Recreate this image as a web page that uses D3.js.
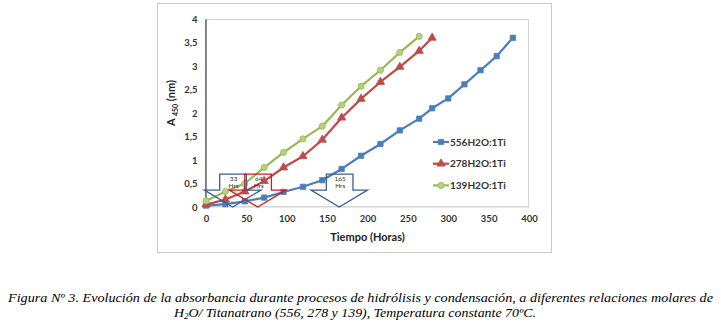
<!DOCTYPE html>
<html><head><meta charset="utf-8">
<script src="https://cdn.jsdelivr.net/npm/d3@7"></script>
<style>body{margin:0;background:#fff}svg{display:block}</style>
</head><body>
<svg id="c" width="721" height="325"></svg>
<script>
const seriesNames = ["556H2O:1Ti", "278H2O:1Ti", "139H2O:1Ti"];
const seriesColors = ["#4a7ebb", "#be4b48", "#98b954"];
const hours556 = [0,24,48,72,96,120,144,168,192,216,240,264,280,300,320,340,360,380];
const abs556   = [0.03,0.06,0.12,0.2,0.32,0.43,0.57,0.81,1.09,1.34,1.63,1.88,2.1,2.31,2.61,2.91,3.21,3.6];
const hours278 = [0,24,48,72,96,120,144,168,192,216,240,264,280];
const abs278   = [0.05,0.16,0.33,0.55,0.84,1.08,1.43,1.9,2.3,2.66,2.98,3.32,3.6];
const hours139 = [0,24,48,72,96,120,144,168,192,216,240,264];
const abs139   = [0.13,0.33,0.5,0.84,1.16,1.45,1.72,2.17,2.57,2.91,3.29,3.63];
const xTicks = [0,50,100,150,200,250,300,350,400];
const yTicks = [0,0.5,1,1.5,2,2.5,3,3.5,4];
const calloutHours = [33, 64, 165];
const calloutLabels = ["33", "64", "165"];
const calloutColors = ["#3b5e91", "#d01c1c", "#3b5e91"];

const svg = d3.select("#c");
const x = d3.scaleLinear().domain([0,400]).range([206,529]);
const y = d3.scaleLinear().domain([0,4]).range([207,19]);
const fmt = d => String(d).replace(".", ",");

// outer chart border
svg.append("rect").attr("x",157.5).attr("y",3.5).attr("width",394).attr("height",249)
  .attr("fill","#fff").attr("stroke","#c8c8c8").attr("stroke-width",1);
// plot area border
svg.append("rect").attr("x",205.5).attr("y",19.5).attr("width",323).attr("height",187)
  .attr("fill","none").attr("stroke","#d4d4d4").attr("stroke-width",1);

// axes
const yAxis = d3.axisLeft(y).tickValues(yTicks).tickFormat(fmt).tickSize(0).tickPadding(8);
const gy = svg.append("g").attr("transform","translate(205.5,0)").call(yAxis);
gy.select(".domain").attr("stroke","#404040").attr("stroke-width",1.2);
gy.selectAll("text").attr("font-family","Lato").attr("font-weight","bold").attr("font-size","9.5px").attr("fill","#333");

const xAxis = d3.axisBottom(x).tickValues(xTicks).tickSize(0).tickPadding(9);
const gx = svg.append("g").attr("transform","translate(0,206.5)").call(xAxis);
gx.select(".domain").attr("stroke","#d4d4d4");
gx.selectAll("text").attr("font-family","Lato").attr("font-weight","bold").attr("font-size","9.5px").attr("fill","#333");

// axis titles
svg.append("text").attr("x",(x(0)+x(400))/2).attr("y",241).attr("text-anchor","middle")
  .attr("font-family","Lato").attr("font-weight","bold").attr("font-size","11px").attr("fill","#222")
  .text("Tiempo (Horas)");
const yt = svg.append("text").attr("transform","translate(175,103) rotate(-90)").attr("text-anchor","middle")
  .attr("font-family","Lato").attr("font-weight","bold").attr("font-size","11px").attr("fill","#222");
yt.append("tspan").text("A ");
yt.append("tspan").attr("font-size","7px").attr("dy",3).text("450");
yt.append("tspan").attr("dy",-3).text(" (nm)");

// series
const series = [
  {name:seriesNames[0], color:seriesColors[0], xs:hours556, ys:abs556, marker:"square"},
  {name:seriesNames[1], color:seriesColors[1], xs:hours278, ys:abs278, marker:"triangle"},
  {name:seriesNames[2], color:seriesColors[2], xs:hours139, ys:abs139, marker:"circle"}
];
const line = d3.line().x(d=>x(d[0])).y(d=>y(d[1]));
const symMap = {square:d3.symbolSquare, triangle:d3.symbolTriangle, circle:d3.symbolCircle};
const symSize = {square:28, triangle:30, circle:30};

function drawMarker(g, s, cx, cy){
  g.append("path").attr("d", d3.symbol().type(symMap[s.marker]).size(symSize[s.marker])())
    .attr("transform",`translate(${cx},${cy})`)
    .attr("fill", s.marker==="circle" ? "#b5d27a" : s.color)
    .attr("stroke", s.color).attr("stroke-width",0.8);
}

series.forEach(s=>{
  const pts = s.xs.map((h,i)=>[h,s.ys[i]]);
  svg.append("path").datum(pts).attr("d",line).attr("fill","none")
    .attr("stroke",s.color).attr("stroke-width",2.2).attr("stroke-linejoin","round");
  const g = svg.append("g");
  pts.forEach(p=>drawMarker(g,s,x(p[0]),y(p[1])));
});

// callouts (down arrow callouts)
calloutHours.forEach((h,i)=>{
  const c = calloutColors[i];
  const bx0 = x(h-16), bx1 = x(h+17), wx0 = x(h-35), wx1 = x(h+35);
  const yTop = y(0.7), ySh = y(0.36), yTip = y(0);
  const pts = [[bx0,yTop],[bx1,yTop],[bx1,ySh],[wx1,ySh],[x(h),yTip],[wx0,ySh],[bx0,ySh]];
  svg.append("path").attr("d", d3.line()(pts)+"Z").attr("fill","none")
    .attr("stroke",c).attr("stroke-width",1.3);
  const t = svg.append("text").attr("text-anchor","middle").attr("font-family","Lato")
    .attr("font-size","6.5px").attr("fill","#333");
  t.append("tspan").attr("x",x(h)+1).attr("y",yTop+7).text(calloutLabels[i]);
  t.append("tspan").attr("x",x(h)+1).attr("y",yTop+14).text("Hrs");
});

// legend
series.forEach((s,i)=>{
  const ly = 142 + i*21.7;
  svg.append("line").attr("x1",433).attr("x2",449).attr("y1",ly).attr("y2",ly)
    .attr("stroke",s.color).attr("stroke-width",2.2);
  drawMarker(svg,s,441,ly);
  svg.append("text").attr("x",450).attr("y",ly+3.5).attr("font-family","Lato").attr("font-weight","bold")
    .attr("font-size","10px").attr("fill","#333").text(s.name);
});

// caption
const cap1 = svg.append("text").attr("x",360.5).attr("y",302).attr("text-anchor","middle")
  .attr("font-family","Liberation Serif").attr("font-style","italic").attr("font-size","12.5px").attr("fill","#000")
  .attr("textLength",705).attr("lengthAdjust","spacingAndGlyphs")
  .text("Figura Nº 3. Evolución de la absorbancia durante procesos de hidrólisis y condensación, a diferentes relaciones molares de");
const cap2 = svg.append("text").attr("x",355).attr("y",316.5).attr("text-anchor","middle")
  .attr("font-family","Liberation Serif").attr("font-style","italic").attr("font-size","12.5px").attr("fill","#000")
  .attr("textLength",362).attr("lengthAdjust","spacingAndGlyphs");
cap2.append("tspan").text("H");
cap2.append("tspan").attr("font-size","8px").attr("dy",2).text("2");
cap2.append("tspan").attr("dy",-2).text("O/ Titanatrano (556, 278 y 139), Temperatura constante 70ºC.");
</script>
</body></html>
